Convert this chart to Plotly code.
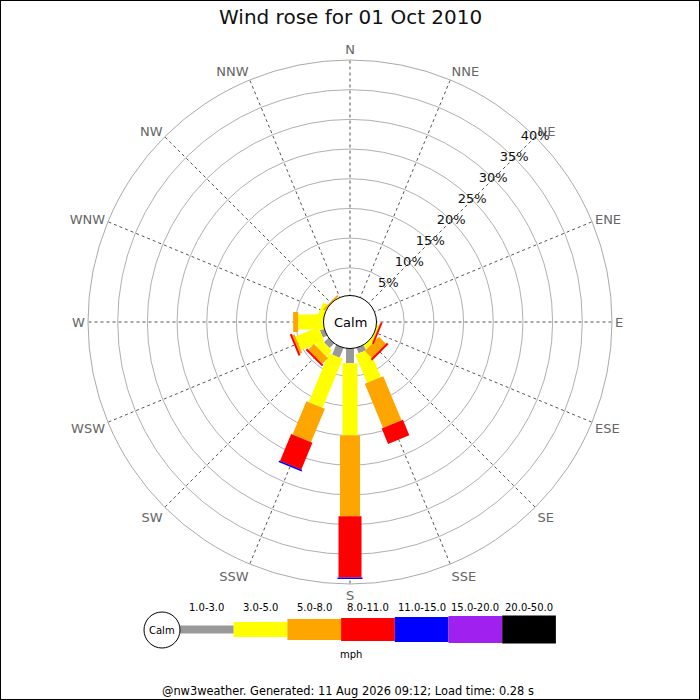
import plotly.graph_objects as go

# ---------------- data ----------------
directions = ["N", "NNE", "NE", "ENE", "E", "ESE", "SE", "SSE",
              "S", "SSW", "SW", "WSW", "W", "WNW", "NW", "NNW"]
dir_angles = [i * 22.5 for i in range(16)]

bin_labels = ["1.0-3.0", "3.0-5.0", "5.0-8.0", "8.0-11.0",
              "11.0-15.0", "15.0-20.0", "20.0-50.0"]
bin_colors = ["#999999", "#FFFF00", "#FFA500", "#FF0000",
              "#0000FF", "#A020F0", "#000000"]

# percentage of time per direction, per speed bin (mph)
pct_1_3   = [0, 0, 0, 0, 0, 0,   0,    1.3,  2.8,  2.1, 1.4,  1.1,  0,    0,   0,   0]
pct_3_5   = [0, 0, 0, 0, 0, 0.6, 1.1,  5.15, 12.2, 8.9, 1.4,  4.2,  4.6,  1.3, 0.3, 0]
pct_5_8   = [0, 0, 0, 0, 0, 0.1, 1.65, 8.05, 13.6, 6.1, 1.35, 0.4,  0.85, 0,   0.3, 0]
pct_8_11  = [0, 0, 0, 0, 0, 0.3, 0.35, 2.8,  10.3, 4.9, 0.35, 0.35, 0,    0,   0,   0]
pct_11_15 = [0, 0, 0, 0, 0, 0,   0,    0,    0.25, 0.25, 0,   0,    0,    0,   0,   0]
pct_15_20 = [0] * 16
pct_20_50 = [0] * 16
bins = [pct_1_3, pct_3_5, pct_5_8, pct_8_11, pct_11_15, pct_15_20, pct_20_50]

radial_ticks = [5, 10, 15, 20, 25, 30, 35, 40]
radial_max = 40

title_text = "Wind rose for 01 Oct 2010"
footer_text = "@nw3weather. Generated: 11 Aug 2026 09:12; Load time: 0.28 s"
unit_text = "mph"

# ---------------- style ----------------
bar_widths = [8, 15, 20, 23, 25, 27, 28]
FONT = "DejaVu Sans"
W = H = 700
cx, cy = 350, 322          # pixel centre of the rose
R_outer = 262              # pixel radius of 40% ring
R_hole = 24.5

fig = go.Figure()

cum = [0.0] * 16
for b, vals in enumerate(bins):
    rr, tt = [], []
    for i, v in enumerate(vals):
        if v > 0:
            rr += [cum[i], cum[i] + v, None]
            tt += [dir_angles[i], dir_angles[i], None]
            cum[i] += v
    if rr:
        fig.add_trace(go.Scatterpolar(
            r=rr, theta=tt, mode="lines",
            line=dict(color=bin_colors[b], width=bar_widths[b]),
            hoverinfo="skip", showlegend=False))

# radial tick labels along NE
fig.add_trace(go.Scatterpolar(
    r=radial_ticks, theta=[45] * len(radial_ticks),
    mode="text", text=[f"{t}%" for t in radial_ticks],
    textfont=dict(family=FONT, size=13, color="#111111"),
    textposition="middle center", cliponaxis=False,
    hoverinfo="skip", showlegend=False))

px = lambda x: x / W
py = lambda y: 1 - y / H

fig.update_layout(
    width=W, height=H,
    margin=dict(l=0, r=0, t=0, b=0),
    paper_bgcolor="white",
    showlegend=False,
    polar=dict(
        domain=dict(x=[px(cx - R_outer), px(cx + R_outer)],
                    y=[py(cy + R_outer), py(cy - R_outer)]),
        hole=R_hole / R_outer,
        bgcolor="white",
        angularaxis=dict(
            direction="clockwise", rotation=90,
            tickmode="array", tickvals=dir_angles, ticktext=directions,
            tickfont=dict(family=FONT, size=13, color="#666666"),
            ticks="", showline=True, linecolor="#aaaaaa", linewidth=1,
            showgrid=True, gridcolor="#555555", gridwidth=1, griddash="dot",
            layer="below traces"),
        radialaxis=dict(
            range=[0, radial_max], tickmode="array", tickvals=radial_ticks,
            showticklabels=False, ticks="", showline=False,
            showgrid=True, gridcolor="#b0b0b0", gridwidth=1,
            layer="below traces"),
    ),
)

shapes = []
annotations = []

# calm circle in centre
rc = 26.5
shapes.append(dict(type="circle", xref="paper", yref="paper",
                   x0=px(cx - rc), x1=px(cx + rc), y0=py(cy + rc), y1=py(cy - rc),
                   fillcolor="white", line=dict(color="#000000", width=1), layer="above"))
annotations.append(dict(x=px(cx), y=py(cy), xref="paper", yref="paper", text="Calm",
                        showarrow=False, font=dict(family=FONT, size=13, color="#000000"),
                        xanchor="center", yanchor="middle"))

# legend
leg_x0, seg_w, leg_cy = 180, 53.7, 629.5
leg_heights = [8, 15, 21, 23, 25, 27, 28]
for k, lab in enumerate(bin_labels):
    x0 = leg_x0 + k * seg_w
    h = leg_heights[k]
    shapes.append(dict(type="rect", xref="paper", yref="paper",
                       x0=px(x0), x1=px(x0 + seg_w),
                       y0=py(leg_cy + h / 2), y1=py(leg_cy - h / 2),
                       fillcolor=bin_colors[k], line=dict(width=0), layer="above"))
    annotations.append(dict(x=px(x0 + seg_w / 2), y=py(607), xref="paper", yref="paper",
                            text=lab, showarrow=False,
                            font=dict(family=FONT, size=10, color="#000000"),
                            xanchor="center", yanchor="middle"))
lr = 18
shapes.append(dict(type="circle", xref="paper", yref="paper",
                   x0=px(162 - lr), x1=px(162 + lr), y0=py(630 + lr), y1=py(630 - lr),
                   fillcolor="white", line=dict(color="#000000", width=1), layer="above"))
annotations.append(dict(x=px(162), y=py(630), xref="paper", yref="paper", text="Calm",
                        showarrow=False, font=dict(family=FONT, size=10, color="#000000"),
                        xanchor="center", yanchor="middle"))
annotations.append(dict(x=px(351), y=py(654), xref="paper", yref="paper", text=unit_text,
                        showarrow=False, font=dict(family=FONT, size=10, color="#000000"),
                        xanchor="center", yanchor="middle"))

# title and footer
annotations.append(dict(x=0.5, y=py(17), xref="paper", yref="paper", text=title_text,
                        showarrow=False, font=dict(family=FONT, size=20, color="#111111"),
                        xanchor="center", yanchor="middle"))
annotations.append(dict(x=px(348), y=py(691), xref="paper", yref="paper", text=footer_text,
                        showarrow=False, font=dict(family=FONT, size=11.4, color="#000000"),
                        xanchor="center", yanchor="middle"))

# outer frame
shapes.append(dict(type="rect", xref="paper", yref="paper", x0=0, x1=1, y0=0, y1=1,
                   line=dict(color="#000000", width=2), fillcolor="rgba(0,0,0,0)", layer="above"))

fig.update_layout(shapes=shapes, annotations=annotations)
fig.write_html("out.html", config={"displayModeBar": False},
               post_script="document.body.style.margin='0';document.body.style.overflow='hidden';")
